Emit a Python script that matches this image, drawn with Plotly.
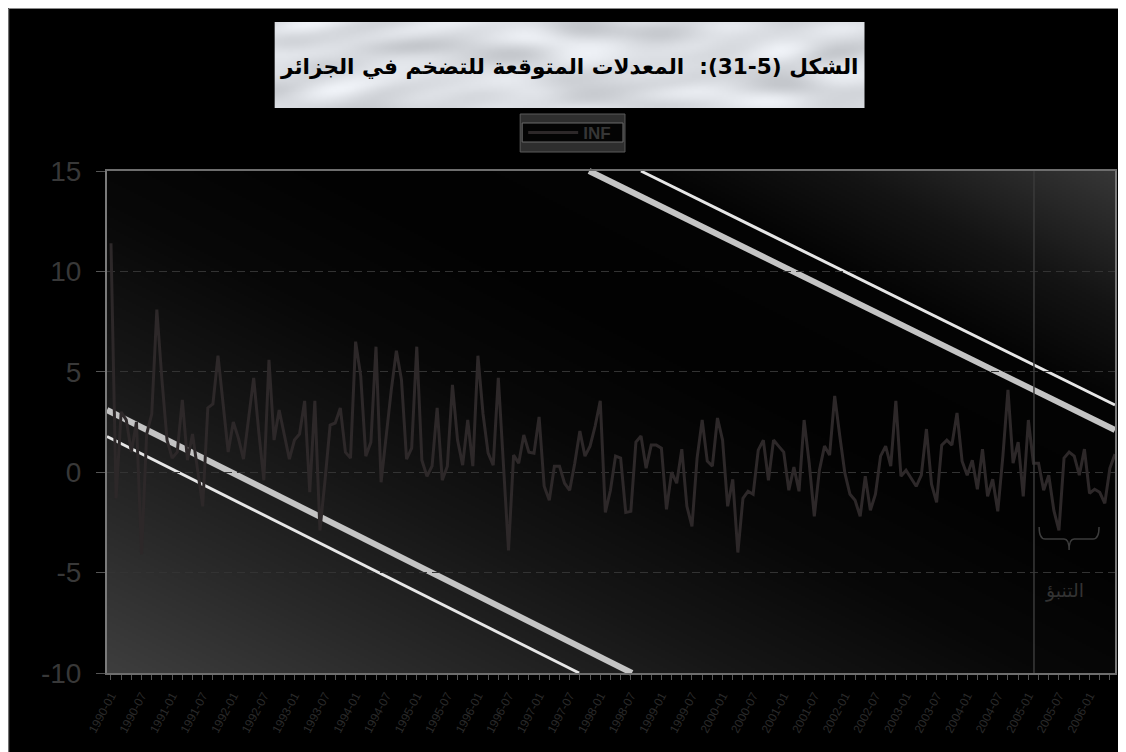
import base64
import struct
import zlib

import numpy as np
import plotly.graph_objects as go

# ---------------- data ----------------
years = list(range(1990, 2007))
months = [f"{y}-{m:02d}" for y in years for m in range(1, 13)][:198]

inf_values = [
    11.4, -1.3, 3.0, 2.6, 1.0, 2.5, -4.1, 1.9, 2.9, 8.1, 4.6, 1.6,      # 1990
    0.7, 1.0, 3.6, 0.6, 1.9, 0.0, -1.7, 3.2, 3.4, 5.8, 3.4, 1.0,        # 1991
    2.5, 1.7, 0.65, 2.6, 4.7, 2.0, -0.4, 5.6, 1.6, 3.1, 1.9, 0.65,      # 1992
    1.6, 1.9, 3.55, -1.0, 3.55, -2.9, -0.4, 2.35, 2.45, 3.2, 1.0, 0.7,  # 1993
    6.5, 4.8, 0.8, 1.5, 6.25, -0.5, 1.8, 4.1, 6.05, 4.6, 0.65, 1.2,     # 1994
    6.25, 0.6, -0.2, 0.3, 3.2, -0.4, 0.3, 4.35, 1.6, 0.35, 2.6, 0.3,    # 1995
    5.8, 2.9, 0.95, 0.35, 4.7, 0.5, -3.9, 0.85, 0.45, 1.85, 1.0, 0.95,  # 1996
    2.75, -0.7, -1.4, 0.3, 0.3, -0.55, -0.9, 0.45, 2.05, 0.8, 1.3, 2.3, # 1997
    3.55, -2.0, -0.9, 0.8, 0.7, -2.0, -1.95, 1.5, 1.8, 0.2, 1.35, 1.35, # 1998
    1.2, -1.85, 0.0, -0.55, 1.15, -1.7, -2.7, 0.7, 2.6, 0.55, 0.3, 2.7, # 1999
    1.6, -1.7, -0.35, -4.0, -1.3, -0.95, -1.1, 1.1, 1.6, -0.4, 1.6, 1.3,  # 2000
    1.0, -0.9, 0.25, -0.95, 2.6, 0.45, -2.2, 0.1, 1.3, 0.85, 3.8, 1.8,    # 2001
    -0.05, -1.1, -1.4, -2.2, -0.2, -1.9, -1.1, 0.8, 1.3, 0.3, 3.55, -0.2, # 2002
    0.1, -0.3, -0.7, -0.15, 2.15, -0.6, -1.5, 1.35, 1.6, 1.35, 2.95, 0.55, # 2003
    -0.15, 0.6, -0.85, 1.15, -1.2, -0.35, -1.95, 0.8, 4.1, 0.45, 1.5, -1.2, # 2004
    2.6, 0.45, 0.45, -0.9, -0.15, -1.9, -2.9, 0.7, 1.0, 0.8, -0.15, 1.15,  # 2005
    -1.05, -0.85, -1.0, -1.55, 0.2, 0.9,                                   # 2006
]

tick_months = months[::2]
tick_text = [m if m.endswith(("-01", "-07")) else "" for m in tick_months]
y_tick_vals = [-10, -5, 0, 5, 10, 15]
y_tick_text = ["-10", "-5", "0", "5", "10", "15"]
forecast_start_index = 181.1

title_text = "الشكل (5-31):  المعدلات المتوقعة للتضخم في الجزائر"
forecast_label = "التنبؤ"
series_name = "INF"

# ---------------- geometry helpers (screen pixels) ----------------
OFF = 8                      # page body margin
W, H = 1126 - OFF, 752 - OFF
L, R, T, B = 107, 1117, 171, 673   # plot area on screen


def px(x):
    return (x - L) / (R - L)


def py(y):
    return (B - y) / (B - T)


def png_uri(arr, color=False):
    h, w = arr.shape[:2]
    raw = b"".join(b"\x00" + arr[j].tobytes() for j in range(h))
    ctype = 2 if color else 0

    def chunk(tag, data):
        c = struct.pack(">I", len(data)) + tag + data
        return c + struct.pack(">I", zlib.crc32(tag + data) & 0xFFFFFFFF)

    png = b"\x89PNG\r\n\x1a\n" + chunk(b"IHDR", struct.pack(">IIBBBBB", w, h, 8, ctype, 0, 0, 0))
    png += chunk(b"IDAT", zlib.compress(raw, 9)) + chunk(b"IEND", b"")
    return "data:image/png;base64," + base64.b64encode(png).decode()


# background gradient for the plot area (diagonal, dark band in the middle)
gw, gh = 505, 251
xx = L + (np.arange(gw) + 0.5) * (R - L) / gw
yy = T + (np.arange(gh) + 0.5) * (B - T) / gh
X, Y = np.meshgrid(xx, yy)
S = 0.5 * X - Y
G = np.interp(S, [-620, -450, -300, -150, 0, 150, 250, 390],
              [62, 40, 22, 8, 2, 4, 20, 56]).astype(np.uint8)
grad_uri = png_uri(G)

# mottled marble-like texture for the title box (smooth trig pattern)
mw, mh = 296, 44
mx, my = np.meshgrid(np.arange(mw), np.arange(mh))
p1 = np.sin(mx * 0.061 + 2.2 * np.sin(my * 0.17 + mx * 0.013))
p2 = np.sin(mx * 0.023 - my * 0.21 + 1.7 * np.sin(mx * 0.047))
p3 = np.sin(mx * 0.11 + my * 0.31 + 1.3 * np.sin(my * 0.11 - mx * 0.02))
gray = 222 + 9 * p1 + 8 * p2 + 5 * p3
rgb = np.stack([gray - 4, gray - 1, gray + 4], axis=-1).clip(0, 255).astype(np.uint8)
marble_uri = png_uri(rgb, color=True)

# ---------------- figure ----------------
fig = go.Figure()
fig.add_trace(go.Scatter(
    x=months, y=inf_values, mode="lines", name=series_name,
    line=dict(color="#2d2829", width=3),
))

shapes = []
# decorative diagonal light stripes
for (x0, y0, x1, y1, col, wd) in [
    (107, 410, 633, 673, "#c4c4c4", 6),
    (107, 436.5, 580, 673, "#e6e6e6", 3),
    (590, 171, 1117, 430, "#c4c4c4", 6),
    (642, 171, 1117, 405, "#e6e6e6", 3),
]:
    shapes.append(dict(type="line", xref="paper", yref="paper", layer="below",
                       x0=px(x0), y0=py(y0), x1=px(x1), y1=py(y1),
                       line=dict(color=col, width=wd)))

# forecast separator
shapes.append(dict(type="line", xref="x", yref="paper", x0=forecast_start_index,
                   x1=forecast_start_index, y0=0, y1=1,
                   line=dict(color="#3a3a3a", width=1.5)))

# brace under forecast area
bx0, bx1, btop, bmid, btip = 1041, 1101, 527, 539, 550
bc = (bx0 + bx1) / 2
path = (f"M{px(bx0)},{py(btop)} Q{px(bx0)},{py(bmid)} {px(bx0 + 6)},{py(bmid)} "
        f"L{px(bc - 5)},{py(bmid)} Q{px(bc)},{py(bmid)} {px(bc)},{py(btip)} "
        f"Q{px(bc)},{py(bmid)} {px(bc + 5)},{py(bmid)} "
        f"L{px(bx1 - 6)},{py(bmid)} Q{px(bx1)},{py(bmid)} {px(bx1)},{py(btop)}")
shapes.append(dict(type="path", xref="paper", yref="paper", path=path,
                   line=dict(color="#3c3c3c", width=1.5)))

# legend bevel box
shapes.append(dict(type="rect", xref="paper", yref="paper",
                   x0=px(521), x1=px(626), y0=py(152), y1=py(114),
                   fillcolor="#2e2e2e", line=dict(color="#5a5a5a", width=1)))
shapes.append(dict(type="rect", xref="paper", yref="paper",
                   x0=px(523), x1=px(624), y0=py(142), y1=py(123),
                   fillcolor="#040404", line=dict(color="#6a6a6a", width=1)))

# thin grey chart frame at the left / top edge
shapes.append(dict(type="line", xref="paper", yref="paper",
                   x0=px(8.5), x1=px(8.5), y0=py(8.5), y1=py(760),
                   line=dict(color="#8a8a8a", width=1)))
shapes.append(dict(type="line", xref="paper", yref="paper",
                   x0=px(8.5), x1=px(1130), y0=py(8.5), y1=py(8.5),
                   line=dict(color="#8a8a8a", width=1)))

images = [
    dict(source=grad_uri, xref="paper", yref="paper", x=0, y=1, sizex=1, sizey=1,
         xanchor="left", yanchor="top", sizing="stretch", layer="below"),
    dict(source=marble_uri, xref="paper", yref="paper", x=px(275), y=py(22),
         sizex=px(866) - px(275), sizey=py(22) - py(108),
         xanchor="left", yanchor="top", sizing="stretch", layer="below"),
]

annotations = [
    dict(text=f"<b>{title_text}</b>", xref="paper", yref="paper", x=px(570), y=py(67),
         showarrow=False, font=dict(family="DejaVu Sans", size=21.6, color="#000000"),
         xanchor="center", yanchor="middle"),
    dict(text=forecast_label, xref="paper", yref="paper", x=px(1066), y=py(590),
         showarrow=False, font=dict(family="DejaVu Sans", size=19, color="#333333"),
         xanchor="center", yanchor="middle"),
]

fig.update_layout(
    width=W, height=H,
    margin=dict(l=L - OFF, r=W - (R - OFF), t=T - OFF, b=H - (B - OFF), pad=0),
    paper_bgcolor="#000000",
    plot_bgcolor="rgba(0,0,0,0)",
    showlegend=True,
    legend=dict(x=px(524), y=py(133), xanchor="left", yanchor="middle",
                bgcolor="rgba(0,0,0,0)", borderwidth=0, itemwidth=50,
                font=dict(family="Liberation Sans", size=17, color="#363636", weight="bold")),
    shapes=shapes,
    images=images,
    annotations=annotations,
    xaxis=dict(
        type="category", range=[-0.78, 197.0],
        tickmode="array", tickvals=tick_months, ticktext=tick_text,
        tickangle=-62, ticks="outside", ticklen=5, tickcolor="#555555",
        ticklabelstandoff=4,
        tickfont=dict(family="Liberation Sans", size=12, color="#2a2a2a"),
        showgrid=False, showline=True, linecolor="#6e6e6e", linewidth=2, mirror=True,
        zeroline=False, automargin=False,
    ),
    yaxis=dict(
        range=[-10, 15], tickmode="array", tickvals=y_tick_vals, ticktext=y_tick_text,
        ticks="outside", ticklen=9, tickcolor="#555555",
        tickfont=dict(family="Liberation Sans", size=28, color="#383838"),
        ticklabelstandoff=9,
        showgrid=True, gridcolor="#333333", gridwidth=1, griddash="8px,5px",
        showline=True, linecolor="#7a7a7a", linewidth=2, mirror=True,
        zeroline=False,
    ),
)

fig.write_html("out.html")
